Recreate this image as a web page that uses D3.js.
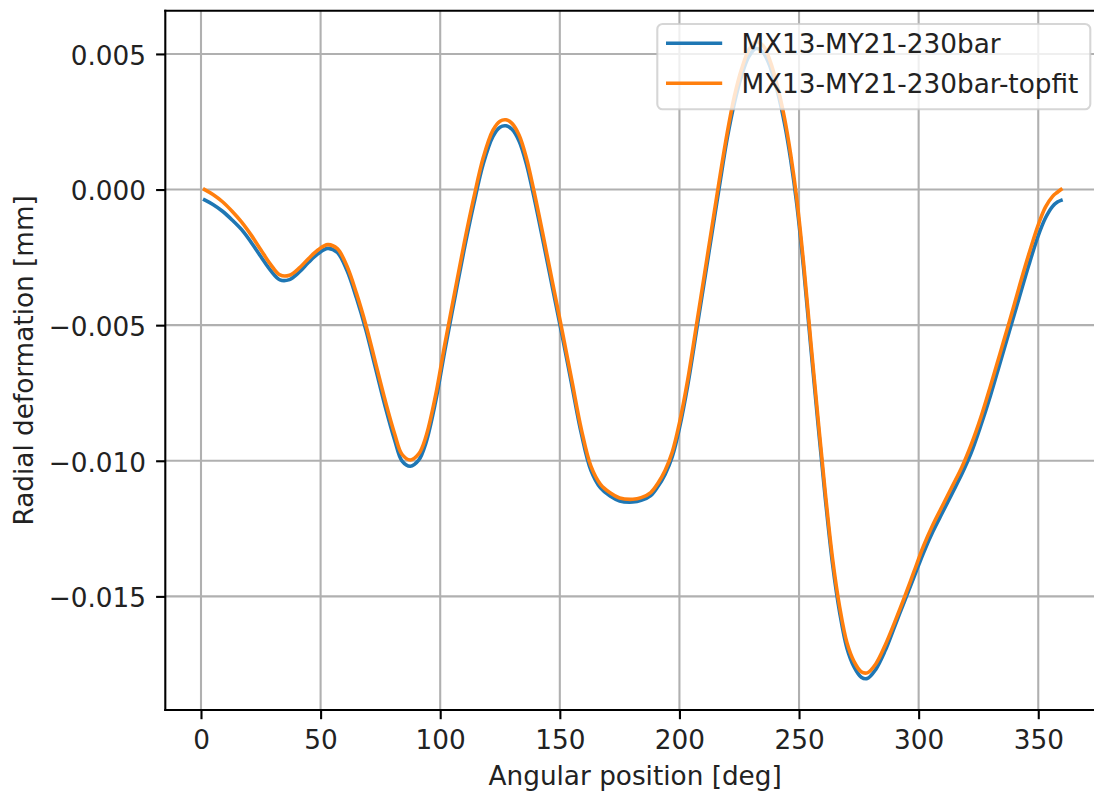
<!DOCTYPE html>
<html>
<head>
<meta charset="utf-8">
<script src="https://cdn.jsdelivr.net/npm/d3@7/dist/d3.min.js"></script>
<style>
  html, body { margin: 0; padding: 0; background: #ffffff; }
  svg { display: block; font-family: "DejaVu Sans", sans-serif; }
</style>
</head>
<body>
<svg id="chart" width="1094" height="791"></svg>
<script>
// Angular positions [deg] shared by both series
const angles = [1.5, 5, 9, 13, 17, 21, 25, 29, 33, 37, 41, 45, 49, 53, 57, 61, 65, 69, 73, 77,
  81, 84, 87.5, 91, 94, 98, 102, 106, 110, 114, 118, 122, 125, 127.5, 130, 133, 136, 139, 143, 147,
  151, 155, 159, 163, 167, 171, 175, 180.5, 184, 188, 191, 194, 197, 200, 203.5, 207.5, 212, 216.5,
  220, 223, 226, 229, 232, 235, 238, 241, 244, 246.5, 249, 252, 255, 258, 261, 264, 267, 270, 273, 276,
  278.5, 282, 286, 290, 294, 298, 302, 306, 310, 314, 318, 322, 326, 330, 334, 338, 342, 346, 350,
  353, 356, 358, 359.5];

// Radial deformation [mm], series "MX13-MY21-230bar"
const deformRaw = [-0.00038, -0.00055, -0.00080, -0.00112, -0.00148, -0.00195, -0.00247, -0.00297, -0.00333, -0.00332,
  -0.00305, -0.00268, -0.00236, -0.00217, -0.00232, -0.00298, -0.00400, -0.00520, -0.00660, -0.00800,
  -0.00925, -0.01000, -0.01020, -0.00998, -0.00935, -0.00785, -0.00590, -0.00405, -0.00222, -0.00055,
  0.00095, 0.00195, 0.00230, 0.00235, 0.00222, 0.00178, 0.00095, -0.00020, -0.00190, -0.00365,
  -0.00540, -0.00720, -0.00900, -0.01035, -0.01100, -0.01130, -0.01148, -0.01152, -0.01146, -0.01128,
  -0.01095, -0.01050, -0.00985, -0.00880, -0.00720, -0.00500, -0.00250, 0.00000,
  0.00190, 0.00320, 0.00420, 0.00490, 0.00520, 0.00505, 0.00450, 0.00360, 0.00240, 0.00110,
  -0.00050, -0.00300, -0.00590, -0.00870, -0.01140, -0.01380, -0.01560, -0.01690, -0.01760, -0.01798,
  -0.01803, -0.01770, -0.01700, -0.01610, -0.01520, -0.01430, -0.01340, -0.01260, -0.01190, -0.01120,
  -0.01050, -0.00970, -0.00870, -0.00760, -0.00640, -0.00520, -0.00400, -0.00280, -0.00170,
  -0.00105, -0.00062, -0.00046, -0.00040];

// Radial deformation [mm], series "MX13-MY21-230bar-topfit"
const deformTopfit = [0.00000, -0.00018, -0.00045, -0.00080, -0.00120, -0.00168, -0.00222, -0.00275, -0.00315, -0.00316,
  -0.00290, -0.00254, -0.00222, -0.00203, -0.00218, -0.00282, -0.00383, -0.00502, -0.00640, -0.00778,
  -0.00902, -0.00976, -0.00997, -0.00975, -0.00912, -0.00762, -0.00567, -0.00382, -0.00199, -0.00032,
  0.00118, 0.00218, 0.00252, 0.00257, 0.00244, 0.00200, 0.00117, 0.00002, -0.00168, -0.00345,
  -0.00522, -0.00703, -0.00884, -0.01020, -0.01087, -0.01118, -0.01137, -0.01142, -0.01136, -0.01117,
  -0.01083, -0.01036, -0.00968, -0.00861, -0.00700, -0.00478, -0.00227, 0.00025,
  0.00210, 0.00345, 0.00445, 0.00515, 0.00545, 0.00530, 0.00472, 0.00380, 0.00260, 0.00130,
  -0.00030, -0.00280, -0.00570, -0.00850, -0.01120, -0.01360, -0.01540, -0.01670, -0.01740, -0.01778,
  -0.01782, -0.01750, -0.01680, -0.01595, -0.01505, -0.01410, -0.01315, -0.01235, -0.01165, -0.01095,
  -0.01025, -0.00940, -0.00840, -0.00725, -0.00605, -0.00485, -0.00360, -0.00240, -0.00130,
  -0.00065, -0.00025, -0.00010, 0.00000];

const seriesNames = ["MX13-MY21-230bar", "MX13-MY21-230bar-topfit"];
const seriesColors = ["#1f77b4", "#ff7f0e"];
const xTickValues = [0, 50, 100, 150, 200, 250, 300, 350];
const yTickValues = [0.005, 0.000, -0.005, -0.010, -0.015];
const xTitle = "Angular position [deg]";
const yTitle = "Radial deformation [mm]";

// Plot geometry (the right spine lies just past the canvas edge)
const plot = { left: 165.3, top: 10.7, right: 1105, bottom: 710 };
const fontSize = 26.3;
const thin = 2.1;      // spine / grid / tick width
const lineW = 3.6;     // data line width
const tickLen = 9.2;

const svg = d3.select("#chart");
svg.append("rect").attr("width", 1094).attr("height", 791).attr("fill", "#ffffff");

const x = d3.scaleLinear().domain([-14.92, 377.9]).range([plot.left, plot.right]);
const y = d3.scaleLinear().domain([-0.019189, 0.006594]).range([plot.bottom, plot.top]);

svg.append("clipPath").attr("id", "plot-clip")
  .append("rect")
  .attr("x", plot.left).attr("y", plot.top)
  .attr("width", plot.right - plot.left).attr("height", plot.bottom - plot.top);

// Grid
const grid = svg.append("g").attr("stroke", "#b0b0b0").attr("stroke-width", thin);
grid.selectAll("line.gx").data(xTickValues).join("line")
  .attr("x1", d => x(d)).attr("x2", d => x(d))
  .attr("y1", plot.top).attr("y2", plot.bottom);
grid.selectAll("line.gy").data(yTickValues).join("line")
  .attr("x1", plot.left).attr("x2", plot.right)
  .attr("y1", d => y(d)).attr("y2", d => y(d));

// Data lines
const seriesData = [deformRaw, deformTopfit].map(vals => angles.map((a, i) => [a, vals[i]]));
const line = d3.line()
  .x(d => x(d[0]))
  .y(d => y(d[1]))
  .curve(d3.curveCatmullRom.alpha(0.5));

svg.append("g").attr("clip-path", "url(#plot-clip)")
  .selectAll("path").data(seriesData).join("path")
  .attr("d", line)
  .attr("fill", "none")
  .attr("stroke", (d, i) => seriesColors[i])
  .attr("stroke-width", lineW)
  .attr("stroke-linejoin", "round")
  .attr("stroke-linecap", "square");

// Axes via d3-axis
const fmtY = v => d3.format(".3f")(v).replace("-", "\u2212");

const xAxis = svg.append("g")
  .attr("transform", `translate(0,${plot.bottom})`)
  .call(d3.axisBottom(x).tickValues(xTickValues).tickSize(tickLen).tickPadding(9.2).tickFormat(d3.format("d")));
const yAxis = svg.append("g")
  .attr("transform", `translate(${plot.left},0)`)
  .call(d3.axisLeft(y).tickValues(yTickValues).tickSize(tickLen).tickPadding(9.2).tickFormat(fmtY));

[xAxis, yAxis].forEach(g => {
  g.select(".domain").remove();
  g.selectAll(".tick line").attr("stroke", "#000").attr("stroke-width", thin);
  g.selectAll(".tick text")
    .attr("fill", "#222222")
    .attr("font-family", "DejaVu Sans")
    .attr("font-size", fontSize);
});
xAxis.selectAll(".tick text").attr("dy", null).attr("y", 749 - plot.bottom);
yAxis.selectAll(".tick text").attr("dy", null).attr("y", 10.3).attr("x", -19.3);

// Spines (left, bottom, top)
const spines = svg.append("g").attr("stroke", "#000").attr("stroke-width", thin).attr("stroke-linecap", "square");
spines.append("line").attr("x1", plot.left).attr("x2", plot.left).attr("y1", plot.top).attr("y2", plot.bottom);
spines.append("line").attr("x1", plot.left).attr("x2", plot.right).attr("y1", plot.bottom).attr("y2", plot.bottom);
spines.append("line").attr("x1", plot.left).attr("x2", plot.right).attr("y1", plot.top).attr("y2", plot.top);

// Axis titles
svg.append("text")
  .attr("x", (plot.left + plot.right) / 2).attr("y", 784.5)
  .attr("text-anchor", "middle")
  .attr("font-size", fontSize).attr("fill", "#222222")
  .text(xTitle);
svg.append("text")
  .attr("transform", `translate(32.5,${(plot.top + plot.bottom) / 2}) rotate(-90)`)
  .attr("text-anchor", "middle")
  .attr("font-size", fontSize).attr("fill", "#222222")
  .text(yTitle);

// Legend
const legend = svg.append("g");
legend.append("rect")
  .attr("x", 657.3).attr("y", 24).attr("width", 433).attr("height", 85.3)
  .attr("rx", 5.3).attr("ry", 5.3)
  .attr("fill", "#ffffff").attr("fill-opacity", 0.8)
  .attr("stroke", "#cccccc").attr("stroke-opacity", 0.8).attr("stroke-width", thin);
const rows = legend.selectAll("g.row").data(seriesNames).join("g")
  .attr("transform", (d, i) => `translate(0,${43.3 + i * 40})`);
rows.append("line")
  .attr("x1", 667.8).attr("x2", 720.4).attr("y1", 0).attr("y2", 0)
  .attr("stroke", (d, i) => seriesColors[i]).attr("stroke-width", lineW)
  .attr("stroke-linecap", "square");
rows.append("text")
  .attr("x", 741.4).attr("y", 10)
  .attr("font-size", fontSize).attr("fill", "#222222")
  .text(d => d);
</script>
</body>
</html>
